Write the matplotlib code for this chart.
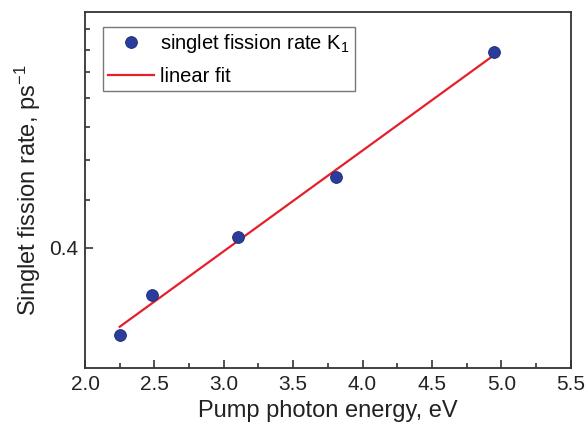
import matplotlib
matplotlib.use("Agg")
import matplotlib.pyplot as plt
from matplotlib.ticker import FixedLocator, NullFormatter, FixedFormatter

plt.rcParams["font.family"] = ["Liberation Sans", "DejaVu Sans"]
plt.rcParams["mathtext.fontset"] = "custom"
plt.rcParams["mathtext.rm"] = "Liberation Sans"
plt.rcParams["mathtext.it"] = "Liberation Sans"

# singlet fission rate vs pump photon energy
energy = [2.25, 2.48, 3.10, 3.81, 4.95]
rate = [0.268, 0.322, 0.420, 0.554, 0.990]

# linear fit (straight on log axis), end points
fit_energy = [2.25, 4.95]
fit_rate = [0.278, 0.976]

fig = plt.figure(figsize=(5.88, 4.26), dpi=100)
ax = fig.add_axes([0.1446, 0.136, 0.826, 0.836])

ax.plot(fit_energy, fit_rate, color="#e3202b", lw=1.6, label="linear fit", zorder=2)
ax.plot(energy, rate, "o", color="#2a3d9c", mec="#1c2a70", mew=0.6, ms=8.5,
        label="singlet fission rate K$_1$", zorder=3)

ax.set_yscale("log")
ax.set_xlim(2.0, 5.5)
ax.set_ylim(0.2297, 1.19)

ax.set_xticks([2.0, 2.5, 3.0, 3.5, 4.0, 4.5, 5.0, 5.5])
ax.set_xticks([2.25, 2.75, 3.25, 3.75, 4.25, 4.75, 5.25], minor=True)
ax.yaxis.set_major_locator(FixedLocator([0.4]))
ax.yaxis.set_major_formatter(FixedFormatter(["0.4"]))
ax.yaxis.set_minor_locator(FixedLocator([0.5, 0.6, 0.7, 0.8, 0.9, 1.0, 1.1]))
ax.yaxis.set_minor_formatter(NullFormatter())

ax.tick_params(which="both", direction="in", colors="#333333", labelcolor="#222222",
               labelsize=15, width=1.2)
ax.tick_params(which="major", length=6)
ax.tick_params(which="minor", length=3.5)
ax.tick_params(axis="x", pad=5)
ax.tick_params(axis="y", pad=5)

for s in ax.spines.values():
    s.set_linewidth(1.3)
    s.set_color("#333333")

ax.set_xlabel("Pump photon energy, eV", fontsize=17, color="#222222", labelpad=4)
ax.set_ylabel("Singlet fission rate, ps$^{-1}$", fontsize=17, color="#222222", labelpad=4)

handles, labels = ax.get_legend_handles_labels()
leg = ax.legend(handles[::-1], labels[::-1], loc="upper left",
                bbox_to_anchor=(0.037, 0.958), fontsize=14.5, frameon=True,
                fancybox=False, edgecolor="#555555", handlelength=2.3,
                handletextpad=0.3, borderpad=0.25, labelspacing=0.6,
                borderaxespad=0)
leg.get_frame().set_linewidth(1.0)

fig.savefig("out.png", dpi=100)
